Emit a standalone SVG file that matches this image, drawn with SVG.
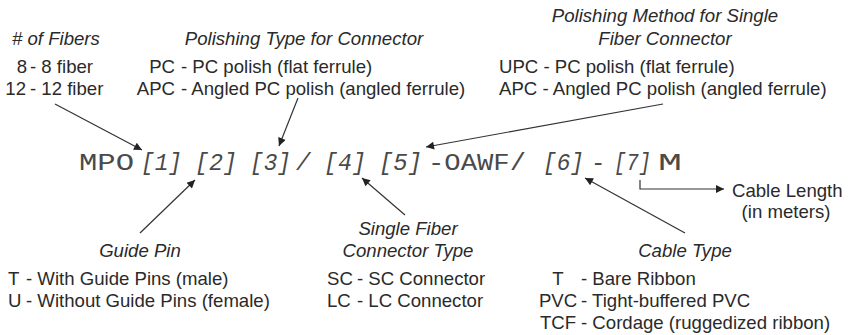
<svg xmlns="http://www.w3.org/2000/svg" width="858" height="335" viewBox="0 0 858 335">
<style>
.t{font-family:"Liberation Sans",Arial,sans-serif;font-size:18.6px;fill:#2a2a2a}
.i{font-style:italic}
.m{font-family:"Liberation Mono","Courier New",monospace;font-size:24px;fill:#4a4a4a}
.mi{font-style:italic}
.c{text-anchor:middle}
.e{text-anchor:end}
.ln{stroke:#333;stroke-width:1.2;fill:none}
</style>
<defs>
<marker id="ah" viewBox="0 0 10 10" refX="10" refY="5" markerWidth="11" markerHeight="8" markerUnits="userSpaceOnUse" orient="auto">
<path d="M0,0 L10,5 L0,10 z" fill="#222"/>
</marker>
</defs>
<rect width="858" height="335" fill="#fff"/>

<g id="code">
<text class="m" x="79" y="170" textLength="55" lengthAdjust="spacingAndGlyphs">MPO</text>
<text class="m mi" x="141" y="170" textLength="41" lengthAdjust="spacingAndGlyphs">[1]</text>
<text class="m mi" x="195" y="170" textLength="42" lengthAdjust="spacingAndGlyphs">[2]</text>
<text class="m mi" x="250" y="170" textLength="41" lengthAdjust="spacingAndGlyphs">[3]</text>
<text class="m mi" x="296" y="170">/</text>
<text class="m mi" x="324" y="170" textLength="42" lengthAdjust="spacingAndGlyphs">[4]</text>
<text class="m mi" x="379" y="170" textLength="43" lengthAdjust="spacingAndGlyphs">[5]</text>
<text class="m" x="428" y="170" textLength="98" lengthAdjust="spacingAndGlyphs">-OAWF/</text>
<text class="m mi" x="543" y="170" textLength="41" lengthAdjust="spacingAndGlyphs">[6]</text>
<text class="m" x="591" y="170">-</text>
<text class="m mi" x="614" y="170" textLength="37" lengthAdjust="spacingAndGlyphs">[7]</text>
<text class="m" x="658" y="170" textLength="24" lengthAdjust="spacingAndGlyphs">M</text>
</g>

<g id="fibers">
<text class="t i" x="12" y="45"># of Fibers</text>
<text class="t e" x="27" y="73">8</text>
<text class="t" x="30" y="73">- 8 fiber</text>
<text class="t e" x="26" y="95">12</text>
<text class="t" x="30" y="95">- 12 fiber</text>
</g>

<g id="polish-type">
<text class="t i c" x="304" y="45">Polishing Type for Connector</text>
<text class="t e" x="175" y="73">PC</text>
<text class="t" x="181" y="73">- PC polish (flat ferrule)</text>
<text class="t e" x="175" y="95">APC</text>
<text class="t" x="181" y="95">- Angled PC polish (angled ferrule)</text>
</g>

<g id="polish-method">
<text class="t i c" x="665" y="22">Polishing Method for Single</text>
<text class="t i c" x="665" y="45">Fiber Connector</text>
<text class="t" x="499" y="73">UPC - PC polish (flat ferrule)</text>
<text class="t" x="499" y="95">APC - Angled PC polish (angled ferrule)</text>
</g>

<g id="guide-pin">
<text class="t i c" x="140" y="257">Guide Pin</text>
<text class="t" x="8" y="285">T</text>
<text class="t" x="26" y="285">- With Guide Pins (male)</text>
<text class="t" x="8" y="307">U</text>
<text class="t" x="26" y="307">- Without Guide Pins (female)</text>
</g>

<g id="sf-connector">
<text class="t i c" x="408" y="235">Single Fiber</text>
<text class="t i c" x="408" y="257">Connector Type</text>
<text class="t" x="327" y="285">SC</text>
<text class="t" x="357" y="285">- SC Connector</text>
<text class="t" x="327" y="307">LC</text>
<text class="t" x="357" y="307">- LC Connector</text>
</g>

<g id="cable-type">
<text class="t i c" x="685" y="257">Cable Type</text>
<text class="t c" x="558" y="285">T</text>
<text class="t" x="581" y="285">- Bare Ribbon</text>
<text class="t c" x="558" y="307">PVC</text>
<text class="t" x="581" y="307">- Tight-buffered PVC</text>
<text class="t c" x="558" y="329">TCF</text>
<text class="t" x="581" y="329">- Cordage (ruggedized ribbon)</text>
</g>

<g id="cable-length">
<text class="t" x="732" y="197">Cable Length</text>
<text class="t c" x="786" y="218">(in meters)</text>
</g>

<g id="connectors">
<line class="ln" x1="55" y1="104" x2="142" y2="150" marker-end="url(#ah)"/>
<line class="ln" x1="298" y1="98" x2="279" y2="146" marker-end="url(#ah)"/>
<line class="ln" x1="663" y1="104" x2="426" y2="147" marker-end="url(#ah)"/>
<line class="ln" x1="140" y1="233" x2="195" y2="180" marker-end="url(#ah)"/>
<line class="ln" x1="405" y1="215" x2="362" y2="178" marker-end="url(#ah)"/>
<line class="ln" x1="685" y1="233" x2="585" y2="178" marker-end="url(#ah)"/>
<polyline class="ln" points="640,180 640,189 724,189" marker-end="url(#ah)"/>
</g>
</svg>
